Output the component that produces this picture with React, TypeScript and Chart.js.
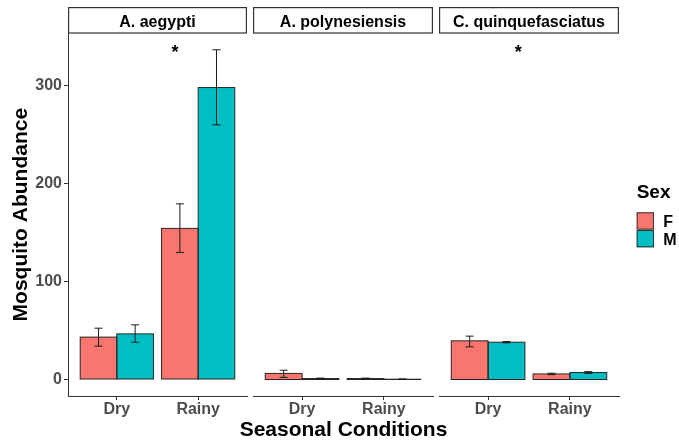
import React, { useEffect, useRef } from 'react';
import { Chart, registerables } from 'chart.js';

Chart.register(...registerables);

// ---------- data ----------
const species = ['A. aegypti', 'A. polynesiensis', 'C. quinquefasciatus'];
const seasons = ['Dry', 'Rainy'];
const seasonX = [1, 2];
const sexes = ['F', 'M'];
const sexColors = ['#F8766D', '#00BFC4'];

// means per species: [Dry, Rainy]
const femaleMean = [[43.2, 154], [6.2, 1.0], [39.4, 5.7]];
const maleMean = [[46.5, 297.5], [1.0, 0.3], [38.0, 7.1]];
// error bar limits
const femaleLow = [[34, 129.5], [2.2, 0.7], [33.3, 5.0]];
const femaleHigh = [[52.3, 179], [9.5, 1.4], [44.2, 6.4]];
const maleLow = [[38, 259.5], [0.6, 0.1], [37.4, 6.3]];
const maleHigh = [[55.7, 336], [1.4, 0.6], [38.7, 8.0]];

// significance markers (x in season units, y in abundance units)
const sigX = [1.716, null, 1.37];
const sigY = [338, null, 338];

const yTicks = [0, 100, 200, 300];
const yMin = -16.8;
const yMax = 352.8;

const xTitle = 'Seasonal Conditions';
const yTitle = 'Mosquito Abundance';
const legendTitle = 'Sex';

// ---------- layout ----------
const W = 679;
const H = 443;
const PANEL_TOP = 33.3;
const PANEL_BOTTOM = 396;
const panels = [
  { left: 68, right: 247 },
  { left: 253, right: 433 },
  { left: 439, right: 619 },
];
const FONT = "'Liberation Sans', Arial, Helvetica, sans-serif";
const AXIS_COLOR = '#333333';
const TICK_COLOR = '#4D4D4D';
const BAR_EDGE = '#262626';

function makeConfig(i: number): any {
  const means = [femaleMean, maleMean];
  const lows = [femaleLow, maleLow];
  const highs = [femaleHigh, maleHigh];

  const overlay = {
    id: 'overlay' + i,
    afterDatasetsDraw(chart: any) {
      const ctx = chart.ctx;
      const ys = chart.scales.y;
      const xs = chart.scales.x;
      const area = chart.chartArea;
      ctx.save();
      // bar outlines (ggplot-style, drawn on the bar element geometry)
      ctx.strokeStyle = BAR_EDGE;
      ctx.lineWidth = 1;
      for (let k = 0; k < 2; k++) {
        const meta = chart.getDatasetMeta(k);
        meta.data.forEach((bar: any) => {
          const p = bar.getProps(['x', 'y', 'base', 'width'], true);
          const l = p.x - p.width / 2;
          const top = Math.min(p.y, p.base);
          const h = Math.abs(p.base - p.y);
          ctx.strokeRect(l, top, p.width, h);
        });
      }
      // error bars
      ctx.strokeStyle = '#1a1a1a';
      ctx.lineWidth = 1;
      for (let k = 0; k < 2; k++) {
        const meta = chart.getDatasetMeta(k);
        meta.data.forEach((bar: any, j: number) => {
          const x = bar.x;
          const yl = ys.getPixelForValue(lows[k][i][j]);
          const yh = ys.getPixelForValue(highs[k][i][j]);
          ctx.beginPath();
          ctx.moveTo(x, yl);
          ctx.lineTo(x, yh);
          ctx.moveTo(x - 4, yl);
          ctx.lineTo(x + 4, yl);
          ctx.moveTo(x - 4, yh);
          ctx.lineTo(x + 4, yh);
          ctx.stroke();
        });
      }
      // significance asterisk
      if (sigX[i] !== null) {
        const px = xs.getPixelForValue(sigX[i] as number);
        const py = ys.getPixelForValue(sigY[i] as number);
        ctx.fillStyle = '#000';
        ctx.font = `bold 18px ${FONT}`;
        ctx.textAlign = 'center';
        ctx.textBaseline = 'alphabetic';
        ctx.fillText('*', px, py + 18 * 0.575);
      }
      // strip
      ctx.fillStyle = '#ffffff';
      ctx.fillRect(area.left, 7.3, area.right - area.left, PANEL_TOP - 7.3);
      ctx.strokeStyle = '#333333';
      ctx.lineWidth = 1.2;
      ctx.strokeRect(area.left + 0.6, 7.6, area.right - area.left - 1.2, PANEL_TOP - 7.9);
      ctx.fillStyle = '#000';
      ctx.font = `bold 16px ${FONT}`;
      ctx.textAlign = 'center';
      ctx.textBaseline = 'alphabetic';
      ctx.fillText(species[i], (area.left + area.right) / 2, 27.2);

      if (i === 0) {
        ctx.save();
        ctx.translate(27, (PANEL_TOP + PANEL_BOTTOM) / 2);
        ctx.rotate(-Math.PI / 2);
        ctx.font = `bold 21px ${FONT}`;
        ctx.textAlign = 'center';
        ctx.fillStyle = '#000';
        ctx.fillText(yTitle, 0, 0);
        ctx.restore();
      }
      if (i === 1) {
        ctx.font = `bold 21px ${FONT}`;
        ctx.textAlign = 'center';
        ctx.fillStyle = '#000';
        ctx.fillText(xTitle, (panels[0].left + panels[2].right) / 2, 436);
      }
      if (i === 2) {
        ctx.textAlign = 'left';
        ctx.fillStyle = '#000';
        ctx.font = `bold 19px ${FONT}`;
        ctx.fillText(legendTitle, 636.7, 198.3);
        const keyTops = [212.3, 230];
        const labelBase = [226.7, 245];
        sexes.forEach((s, k) => {
          ctx.fillStyle = sexColors[k];
          ctx.fillRect(636.7, keyTops[k], 17.3, 17.3);
          ctx.strokeStyle = '#333333';
          ctx.lineWidth = 1;
          ctx.strokeRect(637.2, keyTops[k] + 0.5, 16.3, 16.3);
          ctx.fillStyle = '#000';
          ctx.font = `bold 16px ${FONT}`;
          ctx.fillText(s, 663.3, labelBase[k]);
        });
      }
      ctx.restore();
    },
  };

  return {
    type: 'bar',
    data: {
      datasets: sexes.map((s, k) => ({
        label: s,
        data: seasonX.map((x, j) => ({ x, y: means[k][i][j] })),
        backgroundColor: sexColors[k],
        borderWidth: 0,
        inflateAmount: 0,
        barPercentage: 1,
        categoryPercentage: 0.9,
      })),
    },
    options: {
      animation: false,
      responsive: false,
      maintainAspectRatio: false,
      layout: {
        padding: {
          left: i === 0 ? 0 : panels[i].left,
          right: W - panels[i].right,
          top: PANEL_TOP,
          bottom: 0,
        },
      },
      plugins: {
        legend: { display: false },
        tooltip: { enabled: false },
        title: { display: false },
      },
      scales: {
        x: {
          type: 'linear',
          min: 0.4,
          max: 2.6,
          offset: false,
          afterBuildTicks: (scale: any) => {
            scale.ticks = seasonX.map((v) => ({ value: v }));
          },
          afterFit: (scale: any) => {
            scale.height = H - PANEL_BOTTOM;
          },
          ticks: {
            autoSkip: false,
            maxRotation: 0,
            padding: 0,
            color: TICK_COLOR,
            font: { family: FONT, size: 16, weight: 'bold' },
            callback: (v: number) => seasons[seasonX.indexOf(v)] ?? '',
          },
          grid: {
            display: true,
            offset: false,
            drawOnChartArea: false,
            drawTicks: true,
            tickLength: 4,
            color: AXIS_COLOR,
            lineWidth: 1,
          },
          border: { display: true, color: AXIS_COLOR, width: 1 },
        },
        y: {
          type: 'linear',
          display: i === 0,
          min: yMin,
          max: yMax,
          afterBuildTicks: (scale: any) => {
            scale.ticks = yTicks.map((v) => ({ value: v }));
          },
          afterFit: (scale: any) => {
            scale.width = i === 0 ? panels[0].left : 0;
          },
          ticks: {
            autoSkip: false,
            padding: 2,
            color: TICK_COLOR,
            font: { family: FONT, size: 16, weight: 'bold' },
            callback: (v: number) => String(v),
          },
          grid: {
            display: true,
            drawOnChartArea: false,
            drawTicks: true,
            tickLength: 4,
            color: AXIS_COLOR,
            lineWidth: 1,
          },
          border: { display: true, color: AXIS_COLOR, width: 1 },
        },
      },
    },
    plugins: [overlay],
  };
}

function Panel({ index }: { index: number }) {
  const ref = useRef<HTMLCanvasElement | null>(null);
  useEffect(() => {
    if (!ref.current) return;
    const chart = new Chart(ref.current, makeConfig(index));
    return () => chart.destroy();
  }, [index]);
  return (
    <canvas
      ref={ref}
      width={W}
      height={H}
      style={{ position: 'absolute', left: 0, top: 0, width: W, height: H }}
    />
  );
}

export default function App() {
  return (
    <div
      style={{
        position: 'absolute',
        left: 0,
        top: 0,
        width: W,
        height: H,
        background: '#ffffff',
        overflow: 'hidden',
      }}
    >
      {species.map((s, i) => (
        <Panel key={s} index={i} />
      ))}
    </div>
  );
}
